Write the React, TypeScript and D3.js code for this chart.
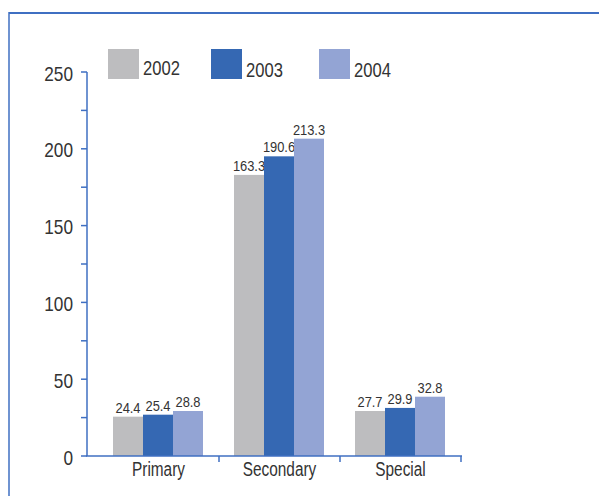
import React from "react";
import * as d3 from "d3";

const categories = ["Primary", "Secondary", "Special"];
const years = ["2002", "2003", "2004"];
// bar heights as drawn
const values2002 = [25.6, 183.0, 29.3];
const values2003 = [26.9, 195.1, 31.3];
const values2004 = [29.3, 206.6, 38.6];
// value labels as printed
const labels2002 = ["24.4", "163.3", "27.7"];
const labels2003 = ["25.4", "190.6", "29.9"];
const labels2004 = ["28.8", "213.3", "32.8"];
const yTicks = [0, 50, 100, 150, 200, 250];
const yMinorTicks = [25, 75, 125, 175, 225];

const colors = ["#bdbdbf", "#3568b3", "#93a4d4"];
const axisColor = "#3f6fc2";
const textColor = "#333333";
const font = "'Liberation Sans', Arial, sans-serif";

function CText(props: { x: number; y: number; size: number; sx: number; anchor?: string; children: React.ReactNode }) {
  return (
    <text
      transform={`translate(${props.x},${props.y}) scale(${props.sx},1)`}
      textAnchor={props.anchor || "start"}
      fontFamily={font}
      fontSize={props.size}
      fill={textColor}
    >
      {props.children}
    </text>
  );
}

export default function App() {
  const W = 599, H = 496;
  const series = [values2002, values2003, values2004];
  const labels = [labels2002, labels2003, labels2004];

  const y = d3.scaleLinear().domain([0, 250]).range([456, 72]);
  const x = d3.scaleBand().domain(categories).range([98, 461]).paddingInner(0).paddingOuter(0);
  const inner = d3.scaleBand().domain(years).range([15, x.bandwidth() - 16]).padding(0);

  return (
    <svg width={W} height={H} style={{ position: "absolute", left: 0, top: 0 }}>
      <rect x={0} y={0} width={W} height={H} fill="#ffffff" />
      {/* frame */}
      <line x1={9} y1={13} x2={W} y2={13} stroke={axisColor} strokeWidth={2} />
      <line x1={9} y1={12} x2={9} y2={H} stroke={axisColor} strokeWidth={1.5} />

      {/* bars */}
      {categories.map((c, ci) =>
        series.map((s, si) => {
          const bx = (x(c) as number) + (inner(years[si]) as number);
          const bw = inner.bandwidth();
          return (
            <g key={c + si}>
              <rect x={bx} y={y(s[ci])} width={bw} height={y(0) - y(s[ci])} fill={colors[si]} />
              <CText x={bx + bw / 2} y={y(s[ci]) - 4} size={15} sx={0.86} anchor="middle">
                {labels[si][ci]}
              </CText>
            </g>
          );
        })
      )}

      {/* y axis */}
      <line x1={87} y1={y(250)} x2={87} y2={y(0)} stroke={axisColor} strokeWidth={1.5} />
      {yTicks.concat(yMinorTicks).map((t) => (
        <line key={"t" + t} x1={81} x2={87} y1={y(t)} y2={y(t)} stroke={axisColor} strokeWidth={1.5} />
      ))}
      {yTicks.map((t) => (
        <CText key={"l" + t} x={73} y={y(t) + 8.5} size={21} sx={0.82} anchor="end">
          {t}
        </CText>
      ))}

      {/* x axis */}
      <line x1={86} y1={y(0)} x2={462} y2={y(0)} stroke={axisColor} strokeWidth={1.5} />
      {categories.map((c) => (
        <line
          key={"xt" + c}
          x1={(x(c) as number) + x.bandwidth()}
          x2={(x(c) as number) + x.bandwidth()}
          y1={y(0)}
          y2={y(0) + 6}
          stroke={axisColor}
          strokeWidth={1.5}
        />
      ))}
      {categories.map((c) => (
        <CText key={"xl" + c} x={(x(c) as number) + x.bandwidth() / 2} y={y(0) + 20} size={20} sx={0.77} anchor="middle">
          {c}
        </CText>
      ))}

      {/* legend */}
      {years.map((yr, i) => {
        const lx = [108, 211, 319][i];
        return (
          <g key={"lg" + yr}>
            <rect x={lx} y={49} width={31} height={30} fill={colors[i]} />
            <CText x={lx + 35} y={i === 0 ? 74.5 : 76.5} size={21} sx={0.79}>
              {yr}
            </CText>
          </g>
        );
      })}
    </svg>
  );
}
